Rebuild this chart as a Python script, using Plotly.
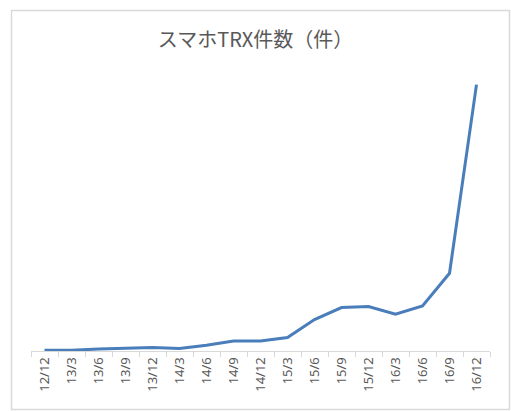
import plotly.graph_objects as go

# quarters (yy/m)
quarters = ["12/12", "13/3", "13/6", "13/9", "13/12", "14/3", "14/6", "14/9",
            "14/12", "15/3", "15/6", "15/9", "15/12", "16/3", "16/6", "16/9", "16/12"]

# smartphone TRX count (arbitrary units)
trx_counts = [0.7, 0.7, 2.0, 3.0, 3.4, 2.4, 5.7, 10.0,
              10.0, 13.4, 31.4, 43.4, 44.4, 36.7, 45.0, 77.7, 266.4]

LINE_COLOR = "#4A7EBB"
GRAY_TEXT = "#595959"
BORDER = "#D9D9D9"

W, H = 511, 411
M_L, M_R, M_T, M_B = 31, 21, 71, 60
pw = W - M_L - M_R
ph = H - M_T - M_B


def px_to_paper_x(px):
    return (px - M_L) / pw


def px_to_paper_y(py):
    return (H - M_B - py) / ph


fig = go.Figure(go.Scatter(
    x=quarters,
    y=trx_counts,
    mode="lines",
    line=dict(color=LINE_COLOR, width=3),
    hoverinfo="x+y",
    showlegend=False,
))

fig.update_layout(
    width=W,
    height=H,
    margin=dict(l=M_L, r=M_R, t=M_T, b=M_B),
    paper_bgcolor="white",
    plot_bgcolor="white",
    title=dict(
        text="スマホTRX件数（件）",
        x=0.5,
        xanchor="center",
        y=1 - 40 / H,
        yanchor="middle",
        font=dict(family="Noto Sans CJK JP", size=20, color=GRAY_TEXT),
    ),
    xaxis=dict(
        type="category",
        range=[-0.5, len(quarters) - 0.5],
        showgrid=False,
        zeroline=False,
        showline=True,
        linecolor=BORDER,
        linewidth=1,
        ticks="outside",
        tickson="boundaries",
        ticklen=5,
        tickcolor=BORDER,
        tickangle=-90,
        tickfont=dict(family="Noto Sans", size=13, color=GRAY_TEXT),
    ),
    yaxis=dict(
        range=[0, 280],
        showgrid=False,
        zeroline=False,
        showticklabels=False,
        showline=False,
    ),
    shapes=[dict(
        type="rect",
        xref="paper", yref="paper",
        x0=px_to_paper_x(11.5), x1=px_to_paper_x(509.5),
        y0=px_to_paper_y(409.5), y1=px_to_paper_y(10.5),
        line=dict(color=BORDER, width=1.5),
        fillcolor="rgba(0,0,0,0)",
        layer="below",
    )],
)

# drop the default body margin so the chart sits at the window's corner
fig.write_html("out.html", config={"displayModeBar": False},
               post_script="document.body.style.margin='0';")
